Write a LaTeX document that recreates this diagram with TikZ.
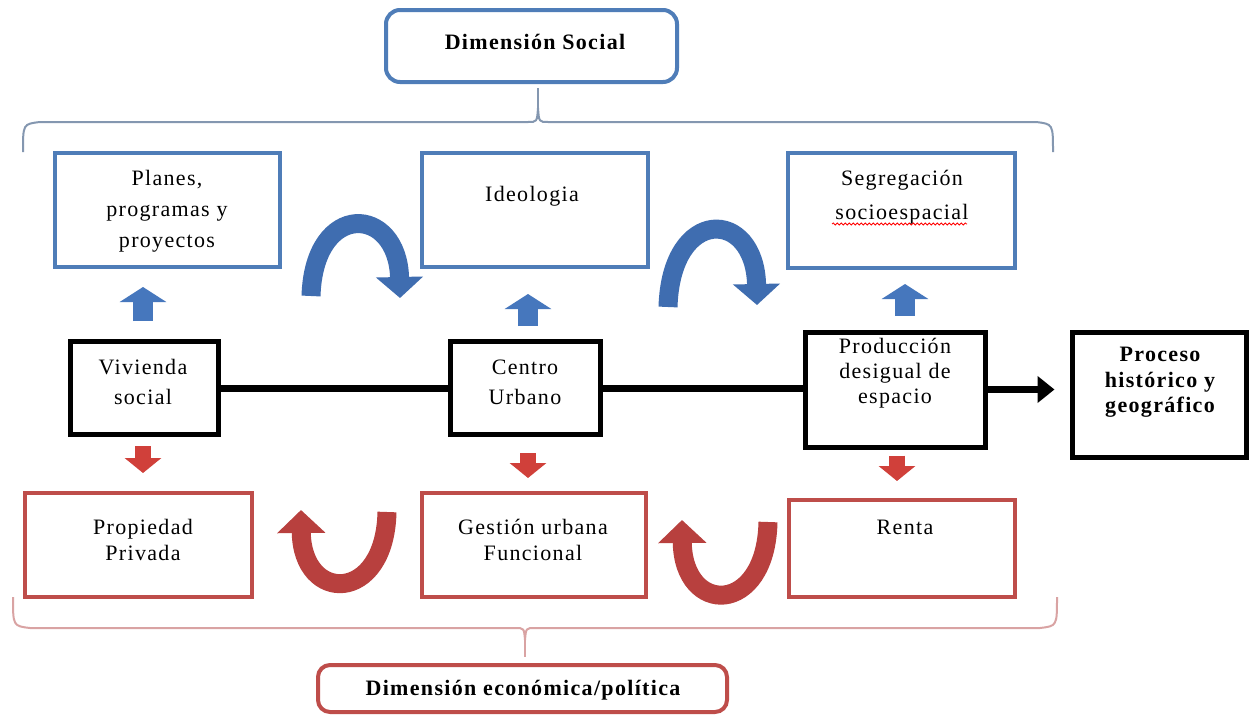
\documentclass[tikz,border=0pt]{standalone}
\usepackage{fontspec}
\setmainfont{Liberation Serif}[LetterSpace=6]
\usetikzlibrary{arrows.meta,calc,decorations.pathmorphing}
\definecolor{boxblue}{HTML}{4F7DB8}
\definecolor{boxred}{HTML}{BE4D4A}
\definecolor{arrblue}{HTML}{4677BD}
\definecolor{curvblue}{HTML}{3F6DB0}
\definecolor{curvblueD}{HTML}{2F5590}
\definecolor{arrred}{HTML}{D0403A}
\definecolor{curvred}{HTML}{B8403E}
\definecolor{curvredD}{HTML}{8E2E2C}
\definecolor{bracetopc}{HTML}{8497B0}
\definecolor{bracebotc}{HTML}{D9A3A3}
\begin{document}
\begin{tikzpicture}[x=1pt,y=-1pt,
  txt/.style={font=\fontsize{22}{30}\selectfont, align=center, inner sep=0pt},
  bluebox/.style={draw=boxblue, line width=4pt, inner sep=0pt, fill=white},
  redbox/.style={draw=boxred, line width=4pt, inner sep=0pt, fill=white},
  blackbox/.style={draw=black, line width=5pt, inner sep=0pt, fill=white},
  conn/.style={draw=black, line width=7pt},
  smallblue/.style={draw=arrblue, line width=20pt, -{Triangle[length=15pt 0 0, width=46pt 0 0]}},
  smallred/.style={draw=arrred, line width=16pt, -{Triangle[length=15pt 0 0, width=36pt 0 0]}},
  curveblue/.style={draw=curvblue, line width=19pt, -{Triangle[length=21pt 0 0, width=46pt 0 0]}},
  curvered/.style={draw=curvred, line width=19pt, -{Triangle[length=23pt 0 0, width=47pt 0 0]}},
  bracetop/.style={draw=bracetopc, line width=2pt},
  bracebot/.style={draw=bracebotc, line width=2pt}
]
\useasboundingbox (0,0) rectangle (1251,715);
\fill[white] (0,0) rectangle (1251,715);

% Titles
\node[draw=boxblue, line width=4pt, rounded corners=14pt, minimum width=291pt, minimum height=72pt] (dimsoc) at (531.5,46) {};
\node[txt, font=\fontsize{22}{30}\selectfont\bfseries] (dimsocT) at (535,42) {Dimensión Social};
\node[draw=boxred, line width=4pt, rounded corners=12pt, minimum width=409pt, minimum height=47pt] (dimeco) at (522.5,688.5) {};
\node[txt, font=\fontsize{22}{30}\selectfont\bfseries] (dimecoT) at (523,690) {Dimensión económica/política};

% Braces
\coordinate (tspike) at (538,88);
\coordinate (bspike) at (525,657);
\draw[bracetop] (23,152) .. controls (23,124) .. (40,122) -- (528,122) .. controls (537,122) .. (538,108)
  .. controls (539,122) .. (548,122) -- (1036,122) .. controls (1053,124) .. (1053,152);
\draw[bracetop] (538,108) -- (tspike);
\draw[bracebot] (13,597) .. controls (13,626) .. (30,628) -- (515,628) .. controls (524,628) .. (525,640)
  .. controls (526,628) .. (535,628) -- (1040,628) .. controls (1057,626) .. (1057,597);
\draw[bracebot] (525,640) -- (bspike);

% Blue boxes
\node[bluebox, minimum width=225pt, minimum height=114pt] (planes) at (167.5,210) {};
\node[txt, font=\fontsize{22}{31}\selectfont] (planesT) at (167,211) {Planes,\\programas y\\proyectos};
\node[bluebox, minimum width=226pt, minimum height=114pt] (ideo) at (535,210) {};
\node[txt] (ideoT) at (532,196) {Ideologia};
\node[bluebox, minimum width=227pt, minimum height=115pt] (seg) at (901.5,210.5) {};
\node[txt, font=\fontsize{22}{34}\selectfont] (segT) at (902,197.5) {Segregación\\socioespacial};
\draw[red, line width=0.8pt, decorate, decoration={snake, amplitude=1pt, segment length=4pt}] (832,224) -- (967,224);

% Black boxes
\node[blackbox, minimum width=148pt, minimum height=93pt] (viv) at (144,388) {};
\node[txt] (vivT) at (143,382) {Vivienda\\social};
\node[blackbox, minimum width=150pt, minimum height=93pt] (centro) at (525,388) {};
\node[txt] (centroT) at (525,382.5) {Centro\\Urbano};
\node[blackbox, minimum width=180pt, minimum height=115pt] (prod) at (895,389.5) {};
\node[txt, font=\fontsize{22}{25}\selectfont] (prodT) at (895,373.5) {Producción\\desigual de\\espacio};
\node[blackbox, minimum width=174pt, minimum height=125pt] (proc) at (1159,394.5) {};
\node[txt, font=\fontsize{22}{25.5}\selectfont\bfseries] (procT) at (1160,382.5) {Proceso\\histórico y\\geográfico};

% Red boxes
\node[redbox, minimum width=227pt, minimum height=104pt] (prop) at (138.5,545) {};
\node[txt, font=\fontsize{22}{26}\selectfont] (propT) at (143,540) {Propiedad\\Privada};
\node[redbox, minimum width=224pt, minimum height=104pt] (gest) at (534,545) {};
\node[txt, font=\fontsize{22}{26}\selectfont] (gestT) at (533,540) {Gestión urbana\\Funcional};
\node[redbox, minimum width=226pt, minimum height=97pt] (renta) at (902,548.5) {};
\node[txt] (rentaT) at (905,527) {Renta};

% Black connectors
\draw[conn] (viv.east) -- (centro.west);
\draw[conn] (centro.east) -- (centro.east -| prod.west);
\draw[conn, -{Triangle[length=17pt 0 0, width=26pt 0 0]}] (prod.east) -- ($(prod.east -| proc.west)+(-15,0)$);

% Small blue arrows
\draw[smallblue] ($(viv.north)+(-1,-18)$) -- ($(viv.north |- planes.south)+(-1,18)$);
\draw[smallblue] ($(centro.north)+(3,-13)$) -- ($(centro.north |- ideo.south)+(3,25)$);
\draw[smallblue] ($(prod.north)+(10,-14)$) -- ($(prod.north |- seg.south)+(10,14)$);

% Small red arrows
\draw[smallred] ($(viv.south)+(-1,9)$) -- ($(viv.south |- prop.north)+(-1,-18)$);
\draw[smallred] ($(centro.south)+(3,16)$) -- ($(centro.south |- gest.north)+(3,-13)$);
\draw[smallred] ($(prod.south)+(2,6)$) -- ($(prod.south |- renta.north)+(2,-17)$);

% Curved blue arrows
\coordinate (cb1s) at (311,296);
\coordinate (cb1e) at (400,298);
\coordinate (cb2s) at (668,307);
\coordinate (cb2e) at (757,305);
\draw[curveblue] (cb1s) .. controls (314,200) and (398,205) .. (cb1e);
\draw[curveblue] (cb2s) .. controls (671,206) and (755,208) .. (cb2e);

% Curved red arrows
\coordinate (cr1s) at (387,512);
\coordinate (cr1e) at (301,510);
\coordinate (cr2s) at (768,522);
\coordinate (cr2e) at (682,520);
\draw[curvered] (cr1s) .. controls (385,604) and (302,604) .. (cr1e);
\draw[curvered] (cr2s) .. controls (766,616) and (683,616) .. (cr2e);
\end{tikzpicture}
\end{document}
